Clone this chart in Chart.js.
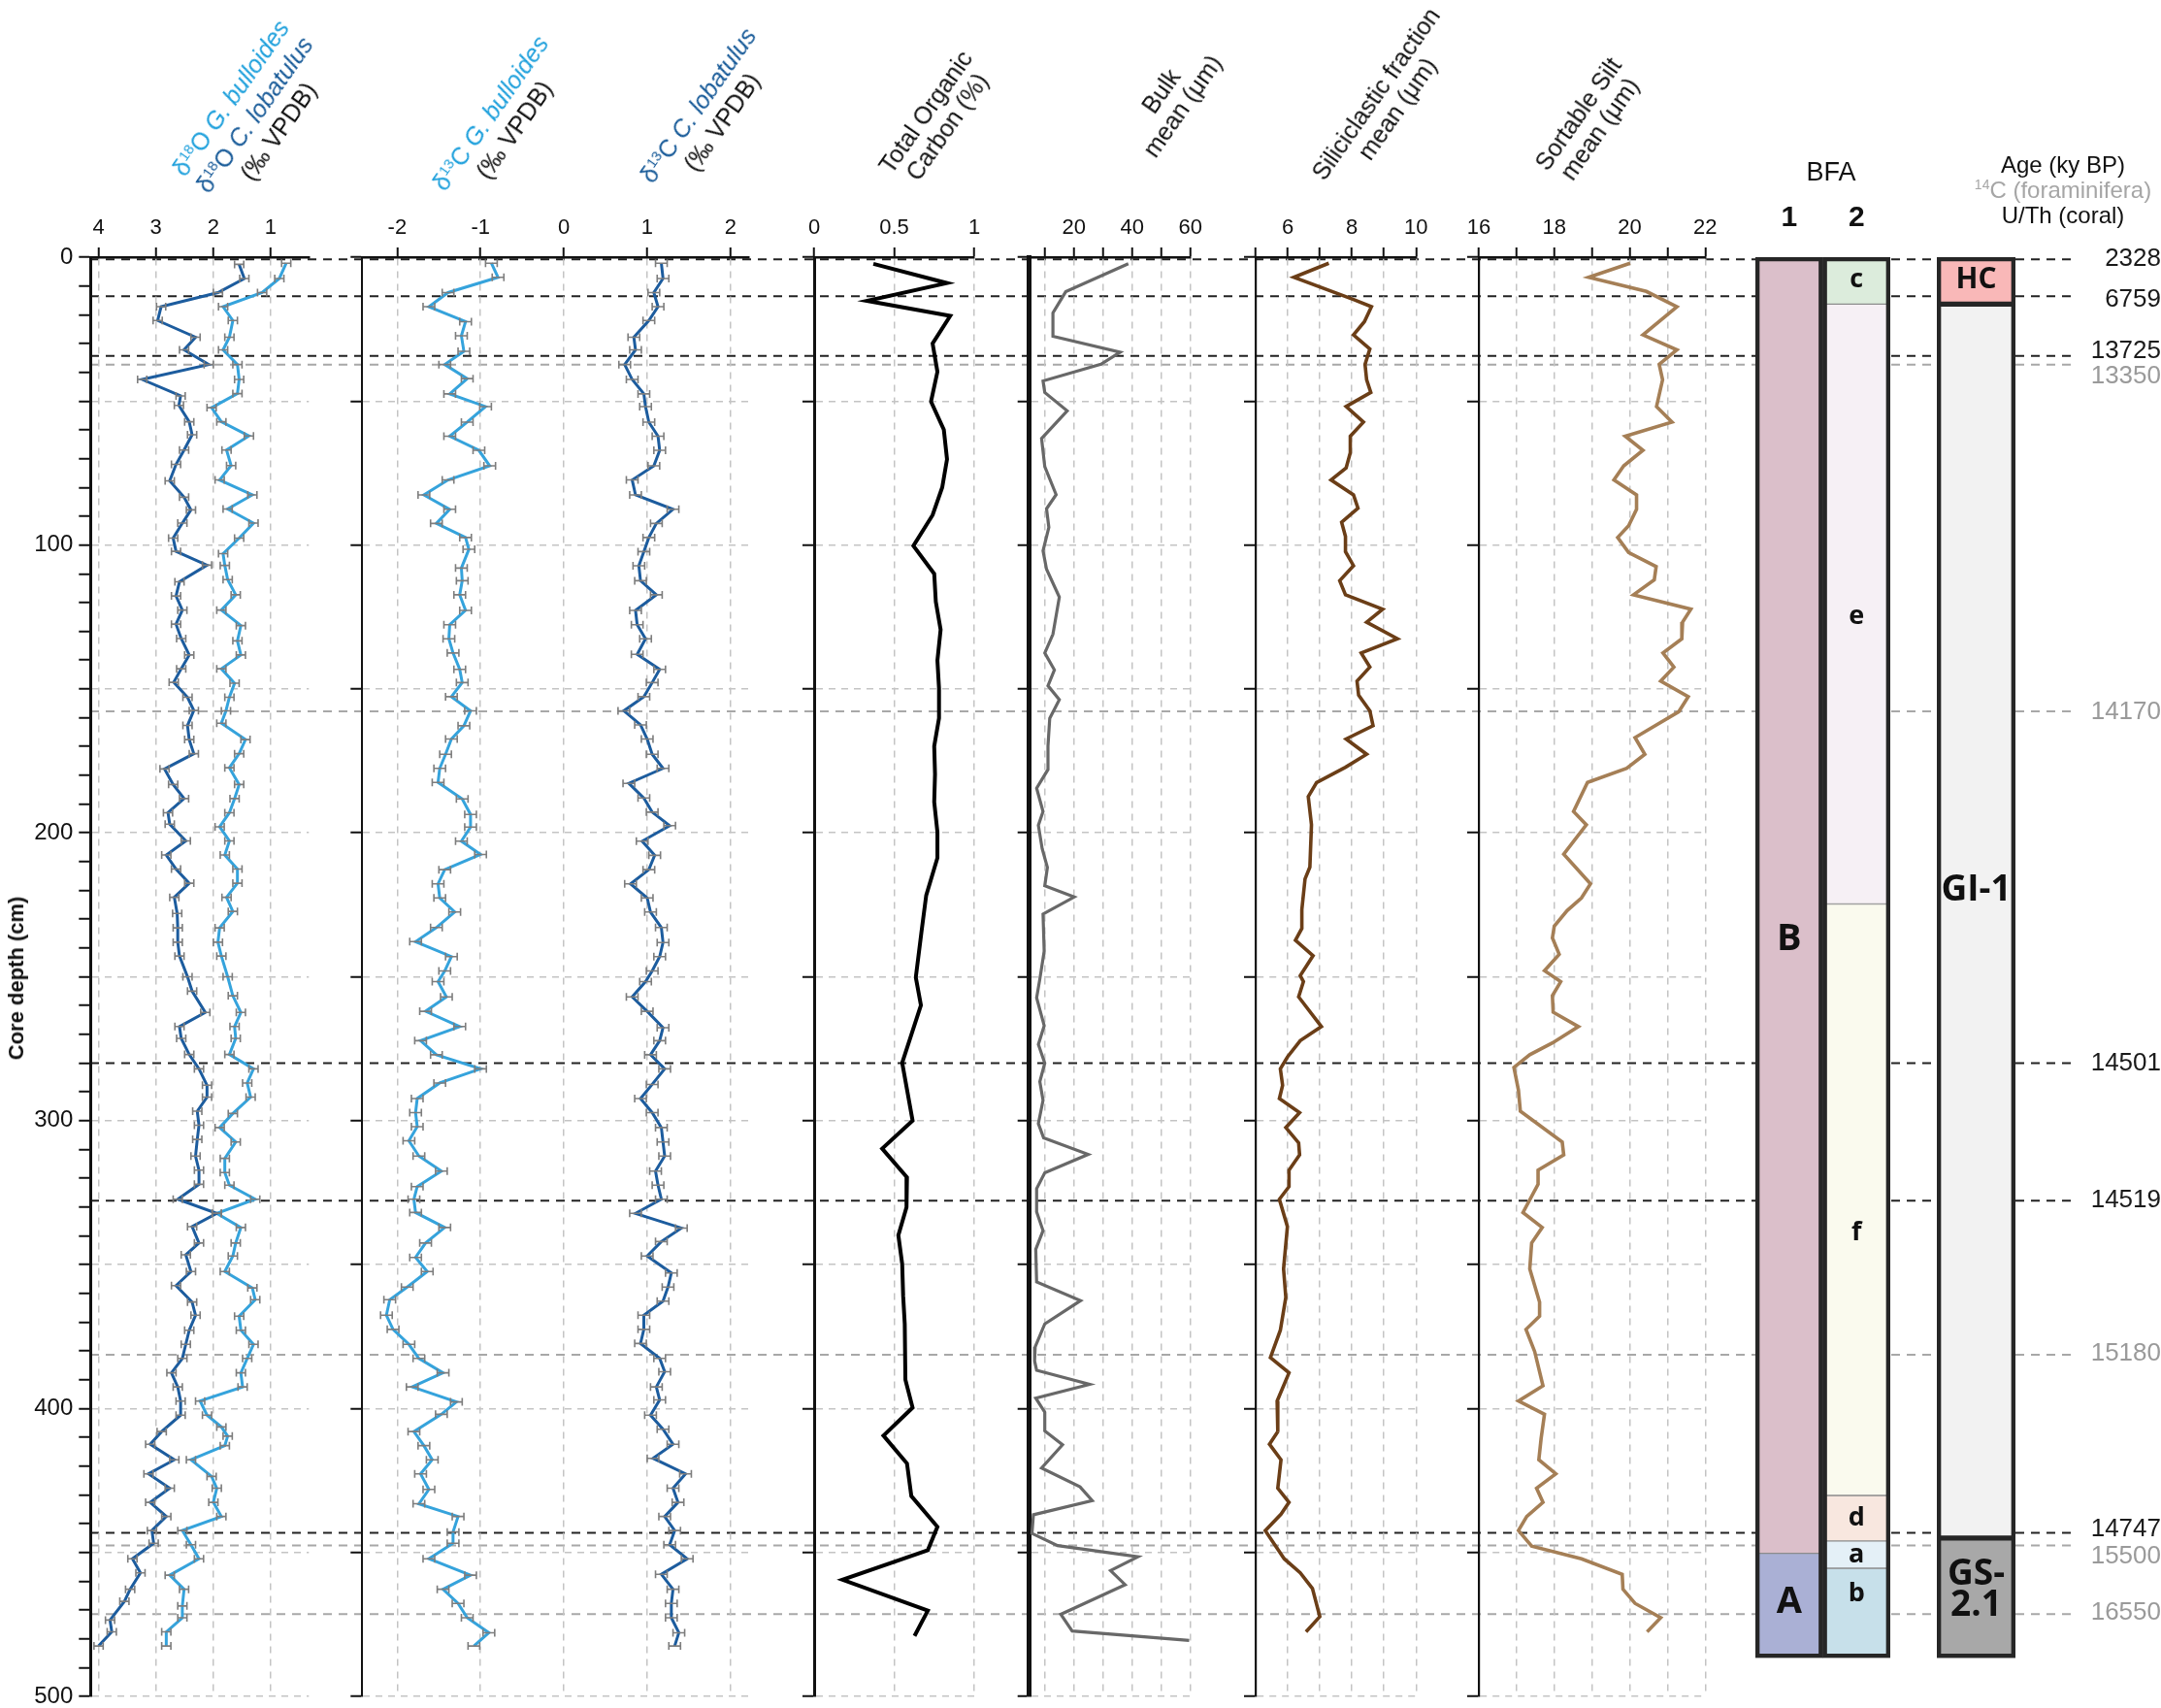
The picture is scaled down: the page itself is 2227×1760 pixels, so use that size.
<!DOCTYPE html>
<html>
<head>
<meta charset="utf-8">
<script src="https://cdn.jsdelivr.net/npm/chart.js@4.4.1/dist/chart.umd.min.js"></script>
<style>
html, body { margin: 0; padding: 0; background: #fff; }
#page { position: relative; width: 2227px; height: 1760px; overflow: hidden; font-family: 'Liberation Sans', Arial, sans-serif; color: #111; }
canvas.layer { position: absolute; top: 0; }
.ttl { position: absolute; white-space: nowrap; text-align: center; transform-origin: 0 0; transform: rotate(-55deg) translateY(-21px); font-size: 25px; line-height: 27px; z-index: 5; }
.sp { font-size: 0.6em; position: relative; top: -0.6em; }
.lbl { position: absolute; white-space: nowrap; z-index: 5; }
</style>
</head>
<body>
<div id="page"></div>
<script>
const FONT = "'Liberation Sans', Arial, sans-serif";
const H = 1790;          // canvas height (page clips at 1760)
const TOP = 265;         // pixel row of 0 cm
const BOTTOM_PAD = 42;   // puts 500 cm at row 1748

// depth axis
const DEPTH_LABELS = [0, 100, 200, 300, 400, 500];

// d18O C. lobatulus
const O18_LOB_DEPTH = [2.5,7.4,12.3,17.2,22,27.8,32.2,37.3,42.5,48.2,51.5,57.2,61.7,67,72,77.7,83.4,87.8,92.4,97.6,102.2,107,112.8,117.7,122.6,127.5,132.5,138.2,143,147.7,152.9,157.5,162.7,167.6,172.5,177.8,183.2,188.1,193,197,202.8,207.7,212.6,217.5,222.4,228,233,238,242.8,250,255,262.4,267.3,271.4,277,282,287.7,291.8,296.7,301.6,306.5,312.3,317.2,322.1,327.3,332.2,336.8,342.5,346.6,352.4,357.3,363,367.6,372.8,377.7,382.6,387.6,392.5,397.4,402.3,408,412.4,417.8,422.7,427.7,432.6,437.5,442.4,446.8,452.2,457.1,462.8,467,473.5,477.6,482.5];
const O18_LOB = [1.55,1.46,1.92,2.91,2.97,2.31,2.51,2.08,3.24,2.57,2.6,2.42,2.37,2.51,2.65,2.76,2.51,2.39,2.54,2.7,2.65,2.11,2.59,2.65,2.54,2.65,2.56,2.42,2.56,2.69,2.45,2.34,2.45,2.42,2.34,2.85,2.7,2.51,2.79,2.76,2.48,2.82,2.65,2.42,2.68,2.63,2.62,2.62,2.59,2.45,2.37,2.14,2.59,2.56,2.42,2.25,2.11,2.11,2.28,2.25,2.28,2.31,2.25,2.25,2.62,1.94,2.37,2.25,2.48,2.39,2.65,2.37,2.31,2.42,2.48,2.54,2.73,2.62,2.57,2.57,2.9,3.1,2.68,3.13,2.76,3.1,2.82,3.07,3.04,3.41,3.27,3.45,3.55,3.8,3.77,4.0];

// d18O G. bulloides
const O18_BUL_DEPTH = [2.1,7.4,12.3,17.2,22,27.8,32.2,37.3,42.5,47.4,52.3,57.2,62.1,67,72.4,77.4,82.6,87.5,92.4,97.6,103,107.1,112,117.3,122.6,128,133.3,138.2,143,148,152.9,157.6,161.9,167.6,172.5,177.4,183.2,188.1,193,197.9,202.8,207.7,212.6,217.5,222.4,227.3,233,238,242.8,250,256.6,262.4,267.3,271.4,277,282,286.9,291.8,297.5,302.4,307.4,313.1,318,322.4,327.3,332.2,337.1,342.5,347,352.4,358.1,362.2,367.9,372.8,377.7,382.6,387.6,392.5,397.4,402.3,406.4,409.6,412.9,417.8,423.6,427.7,432.6,437.5,442.4,447.3,452.2,457.9,462.8,468.6,472.7,477.6,482.5];
const O18_BUL = [0.73,0.85,1.15,1.83,1.66,1.72,1.83,1.58,1.55,1.58,2.03,1.86,1.38,1.77,1.69,1.89,1.32,1.75,1.30,1.55,1.83,1.80,1.75,1.61,1.86,1.52,1.58,1.52,1.86,1.63,1.72,1.78,1.86,1.44,1.55,1.72,1.55,1.63,1.72,1.89,1.72,1.80,1.58,1.58,1.77,1.66,1.89,1.92,1.86,1.75,1.66,1.52,1.63,1.61,1.72,1.30,1.41,1.35,1.66,1.89,1.61,1.80,1.80,1.72,1.27,1.94,1.52,1.61,1.66,1.80,1.32,1.27,1.55,1.52,1.30,1.41,1.52,1.49,2.23,2.11,1.86,1.75,1.80,2.39,2.03,1.94,2.0,1.86,2.54,2.39,2.25,2.76,2.51,2.54,2.54,2.82,2.82];

// d13C G. bulloides
const C13_BUL_DEPTH = [2.1,7,12.3,17.2,22.4,27.3,32.7,37.3,42.2,47.5,51.9,57.3,62.2,67.1,72.5,77.4,82.6,87.6,92.5,97.4,101.5,108,112.4,117.3,122.7,127.7,132.6,137.5,143.2,147.8,152.7,157.6,162.8,167.4,172.7,177.6,182.5,188.2,193.6,198,202.9,207.5,212.8,217.7,222.6,227.5,232.9,237.8,243,248,251.7,257,262,267.3,272.2,277.1,282,286.9,292.3,297.2,302.1,307,312.3,317.5,322.9,327.3,331.9,337.1,342.5,347.5,352.4,357.8,362.2,367.6,372.5,377.7,382.6,387.6,392.5,397.7,402,408,412.9,417.8,422.7,428.1,433.1,437.5,442.9,446.8,452.2,457.9,462.8,467.7,472.7,477.9,482.5];
const C13_BUL = [-0.87,-0.79,-1.39,-1.62,-1.18,-1.23,-1.20,-1.43,-1.16,-1.37,-0.94,-1.16,-1.37,-1.02,-0.89,-1.39,-1.68,-1.37,-1.53,-1.18,-1.14,-1.23,-1.22,-1.25,-1.18,-1.37,-1.38,-1.33,-1.25,-1.22,-1.35,-1.12,-1.20,-1.35,-1.42,-1.49,-1.51,-1.22,-1.12,-1.12,-1.23,-1.0,-1.43,-1.51,-1.49,-1.31,-1.53,-1.78,-1.35,-1.43,-1.51,-1.41,-1.66,-1.25,-1.72,-1.53,-1.0,-1.49,-1.76,-1.78,-1.76,-1.86,-1.74,-1.47,-1.76,-1.80,-1.78,-1.43,-1.66,-1.78,-1.64,-1.88,-2.09,-2.13,-2.05,-1.86,-1.74,-1.45,-1.82,-1.29,-1.47,-1.80,-1.68,-1.58,-1.72,-1.62,-1.74,-1.27,-1.33,-1.33,-1.62,-1.12,-1.45,-1.27,-1.16,-0.90,-1.08];

// d13C C. lobatulus
const C13_LOB_DEPTH = [2.1,7.4,12.3,17.2,22,27.8,32.2,37.3,42.5,47.5,51.9,57.3,62.2,67.1,72.5,77.4,82.6,87.6,92.5,97.4,102.3,107.2,112.4,117.3,122.7,127.7,132.6,138,143.2,147.8,152.7,157.6,162.5,167.4,172.7,177.6,182.8,187.9,192.8,197.5,202.9,207.8,212.8,217.7,222.6,227.5,232.9,238.1,243,248,251.7,257,262,267.7,272.2,277.1,282,287.4,292.3,297.2,302.4,307.4,312.3,317.5,322.4,327.3,332.2,337.3,342,347,352.9,357.8,362.7,367.6,372.5,377.4,382.6,387.2,392.5,397,402.3,407.2,412.4,417.3,422.7,427.7,432.6,437.5,442.4,447.3,452.2,457.6,462.8,467.7,472.7,477.9,482.5];
const C13_LOB = [1.17,1.19,1.08,1.13,1.02,0.84,0.86,0.73,0.82,0.96,0.98,1.02,1.13,1.15,1.08,0.82,0.86,1.31,1.11,1.02,0.96,0.90,0.92,1.11,0.86,0.88,0.98,0.88,1.15,1.06,0.96,0.72,0.92,1.0,1.06,1.19,0.78,0.96,1.06,1.27,0.94,1.09,1.02,0.80,1.0,1.04,1.17,1.19,1.15,1.06,0.98,0.82,1.0,1.19,1.15,1.04,1.21,1.06,0.92,1.06,1.17,1.19,1.21,1.10,1.13,1.17,0.86,1.41,1.17,1.0,1.29,1.25,1.19,0.96,0.96,0.92,1.15,1.21,1.11,1.15,1.04,1.19,1.31,1.07,1.46,1.31,1.37,1.21,1.33,1.27,1.48,1.17,1.31,1.29,1.29,1.38,1.33];

// total organic carbon (%)
const TOC_DEPTH = [2.3,9,15.2,20.4,30,39.8,50.2,59.9,70.2,80,89.6,100.3,110,119.7,129.4,140.1,149.8,160.2,169.9,179.6,189.3,199.7,208.7,221.7,234.6,250.2,259.9,279.9,300,309.7,319.7,330.1,339.8,349.8,360.8,370.6,390,399.7,409.4,419.1,430.4,441.1,449.2,459.5,470.2,479];
const TOC = [0.37,0.83,0.33,0.85,0.74,0.77,0.73,0.81,0.83,0.80,0.74,0.62,0.75,0.76,0.79,0.77,0.78,0.78,0.75,0.755,0.75,0.77,0.77,0.70,0.67,0.635,0.667,0.55,0.615,0.425,0.58,0.577,0.526,0.55,0.556,0.566,0.57,0.615,0.433,0.58,0.607,0.77,0.71,0.177,0.71,0.627];

// bulk mean (um)
const BULK_DEPTH = [2.3,12,19.4,27.5,33,37.2,43,47,53.4,63,72.8,82.5,87.4,93.9,102,108.4,118.1,131,137.5,143.4,148.9,153.7,160.2,169.9,178,184.5,192.6,197.4,205.5,212,218.4,222.3,228.2,241.1,250.8,257.3,267,273.5,280,286.4,292.9,301,306,311.7,318.1,323.6,331.7,338.2,344.7,356,362.5,370.6,378.6,383.5,386.7,391.6,396.4,401.3,407.8,412.6,420.7,427.2,432,436.9,443.4,447.6,451.5,456.3,461.2,471.5,477.3,480.6];
const BULK = [38.7,17.2,12.8,12.8,35.9,29.3,9.4,10,17.7,8.9,10,13.9,10.6,11.4,9.4,10.6,15,12.8,10,13.3,11.1,15,11.7,11.1,11.1,7.2,9.4,7.8,9.1,10.9,10,20.1,9.4,9.8,8.3,7.2,9.8,7.8,10,8.3,9.4,7.8,9.6,24.9,10,7.2,7.2,9.4,6.9,7.2,22.3,10,6.7,6.5,7.2,25.4,6.9,10,10,16.1,8.9,22.1,26.3,6.1,5.6,14.4,42,32.6,37.6,15.5,19.4,59.6];

// siliciclastic fraction mean (um)
const SILIC_DEPTH = [2.1,7,14.7,17.2,22.4,27,31.9,37.2,42.6,47,51.9,57.3,62.2,67.9,73.2,77.4,82.6,87.2,92.1,97,102.3,107.2,112.4,117.3,122.3,126.8,132.6,137.5,142.4,147.3,152.2,157.6,162.8,167.4,172.7,177.2,182.5,187.4,197.2,211.9,216,226.7,233.2,237.3,242.7,249.6,251.7,257,267.3,272.2,277.9,282,287.7,292.3,297.2,302.4,307.7,311.9,317.2,322.9,327.3,336.8,351.5,361.4,372.8,382.3,387.6,397.4,408,412.4,417.8,427.7,432.6,436.7,442.4,452.2,457.1,462.5,472.3,477.6];
const SILIC = [7.28,6.19,8.05,8.61,8.39,8.05,8.56,8.41,8.46,8.59,7.82,8.36,7.95,7.95,7.82,7.35,8.05,8.19,7.68,7.80,7.80,8.05,7.62,7.80,8.96,8.46,9.42,8.29,8.56,8.16,8.21,8.56,8.66,7.82,8.46,7.80,6.90,6.64,6.74,6.69,6.54,6.44,6.44,6.24,6.79,6.39,6.49,6.34,7.05,6.39,5.99,5.77,5.84,5.74,6.37,5.94,6.34,6.37,6.04,6.04,5.74,5.99,5.87,5.94,5.77,5.46,6.04,5.67,5.69,5.43,5.79,5.69,6.04,5.79,5.30,5.89,6.39,6.77,7.0,6.57];

// sortable silt mean (um)
const SILT_DEPTH = [2.1,7,11.9,17.2,27,32.2,37.2,42.6,51.9,57.3,62.2,67.1,72.5,77.4,82.6,87.6,93.3,97.4,102.6,107.5,112.1,117.3,122.3,126.8,132.6,137.5,142.4,147.3,152.7,157.9,166.9,172.7,177.6,182.5,192.6,197.2,207.4,217.7,222.6,227,232.4,236.5,242.2,247.9,251.7,256.6,262.3,267.3,273,277.1,281.5,289.4,296.7,307.4,311.9,317.2,322.1,331.9,337.1,342.5,351.5,363,367.9,372.5,380.2,392.1,397.4,402,410.5,417.8,422.7,427.7,432.6,437.5,442.4,447.8,452.2,457.6,462.8,467.7,472.7,477.6];
const SILT = [20.01,18.91,20.44,21.25,20.35,21.25,20.78,20.87,20.71,21.12,19.88,20.35,19.84,19.58,20.18,20.18,19.97,19.68,19.97,20.70,20.65,20.10,21.62,21.40,21.38,20.88,21.17,20.82,21.55,21.30,20.14,20.40,19.92,18.88,18.51,18.85,18.25,18.96,18.72,18.34,18.0,17.95,18.13,17.74,18.17,17.95,17.97,18.64,17.95,17.35,16.93,17.05,17.10,18.21,18.25,17.57,17.57,17.17,17.68,17.40,17.35,17.61,17.61,17.25,17.48,17.70,17.05,17.74,17.65,17.59,18.04,17.53,17.70,17.27,17.05,17.40,18.72,19.80,19.82,20.14,20.82,20.46];

// tick values and labels of the value axes
const O18_TICKS = [4, 3, 2, 1];
const O18_TICK_LABELS = ['4', '3', '2', '1'];
const C13_TICKS = [-2, -1, 0, 1, 2];
const C13_TICK_LABELS = ['-2', '-1', '0', '1', '2'];
const TOC_TICKS = [0, 0.5, 1];
const TOC_TICK_LABELS = ['0', '0.5', '1'];
const BULK_TICKS = [10, 20, 30, 40, 50, 60];
const BULK_TICK_LABELS = ['', '20', '', '40', '', '60'];
const SILIC_TICKS = [5, 6, 7, 8, 9, 10];
const SILIC_TICK_LABELS = ['', '6', '', '8', '', '10'];
const SILT_TICKS = [16, 17, 18, 19, 20, 21, 22];
const SILT_TICK_LABELS = ['16', '', '18', '', '20', '', '22'];

// dated levels
const REF_DEPTH = [0.8, 13.6, 34.3, 37.3, 157.8, 280, 327.8, 381.3, 443.2, 447.6, 471.4];
const REF_KIND = ['U/Th', 'U/Th', 'U/Th', '14C', '14C', 'U/Th', 'U/Th', '14C', 'U/Th', '14C', '14C'];
const REF_LABEL_DEPTH = [0.5, 14.8, 32.5, 41.5, 158, 280, 327.6, 381, 441.8, 451.5, 471];
const REF_LABELS = ['2328', '6759', '13725', '13350', '14170', '14501', '14519', '15180', '14747', '15500', '16550'];

// benthic foraminiferal assemblages
const CORE_BASE = 486.6;
const BFA_COLUMNS = ['1', '2'];
const BFA_ZONE = ['B', 'A', 'c', 'e', 'f', 'd', 'a', 'b'];
const BFA_ZONE_COLUMN = ['1', '1', '2', '2', '2', '2', '2', '2'];
const BFA_ZONE_TOP = [0, 450.3, 0, 16.3, 224.7, 430.2, 446, 455.5];
const BFA_ZONE_BASE = [450.3, 486.6, 16.3, 224.7, 430.2, 446, 455.5, 486.6];
const BFA_NAME_DEPTH = [237, 467.5, 8, 125, 339, 438, 451, 464.5];
const AGE_ZONE = ['HC', 'GI-1', 'GS-\n2.1'];
const AGE_ZONE_TOP = [0, 16.3, 445];
const AGE_ZONE_BASE = [16.3, 445, 486.6];
const AGE_NAME_DEPTH = [8, 220, 463];

const BFA_COLORS = ['#dbbfca', '#aab0d5', '#dcecdc', '#f6f0f5', '#fafaee', '#f8e7df', '#e4f0f7', '#c7e0ea'];
const AGE_COLORS = ['#f9b8b8', '#f2f2f2', '#a8a8a8'];
const KIND_COLOR = { 'U/Th': '#1a1a1a', '14C': '#9a9a9a' };
const BUL_COLOR = '#35a3dc';
const LOB_COLOR = '#1c5c9e';

const page = document.getElementById('page');

function addCanvas(left, width, z) {
  const c = document.createElement('canvas');
  c.className = 'layer';
  c.width = width; c.height = H;
  c.style.left = left + 'px';
  c.style.width = width + 'px';
  c.style.height = H + 'px';
  c.style.zIndex = z;
  page.appendChild(c);
  return c;
}

function series(depths, values, color, width, err) {
  return {
    data: depths.map((d, i) => ({ x: values[i], y: d })),
    borderColor: color, borderWidth: width, pointRadius: 0, tension: 0, fill: false, err: err
  };
}

// horizontal analytical error bars
const errorBars = {
  id: 'errorBars',
  afterDatasetsDraw(chart) {
    const { ctx, scales: { x, y } } = chart;
    chart.data.datasets.forEach(ds => {
      if (!ds.err) return;
      ctx.save();
      ctx.strokeStyle = '#7d7d7d';
      ctx.lineWidth = 1.6;
      ds.data.forEach(p => {
        const x0 = x.getPixelForValue(p.x - ds.err);
        const x1 = x.getPixelForValue(p.x + ds.err);
        const yy = y.getPixelForValue(p.y);
        ctx.beginPath();
        ctx.moveTo(x0, yy); ctx.lineTo(x1, yy);
        ctx.moveTo(x0, yy - 4); ctx.lineTo(x0, yy + 4);
        ctx.moveTo(x1, yy - 4); ctx.lineTo(x1, yy + 4);
        ctx.stroke();
      });
      ctx.restore();
    });
  }
};

// zone names written inside each bar, at their own depth
const zoneTags = {
  id: 'zoneTags',
  afterDatasetsDraw(chart) {
    const ctx = chart.ctx;
    const y = chart.scales.y;
    chart.data.datasets.forEach((ds, i) => {
      if (!ds.tag) return;
      chart.getDatasetMeta(i).data.forEach((el, j) => {
        if (!ds.data[j]) return;
        const lines = ds.tag.split('\n');
        const mid = y.getPixelForValue(ds.tagDepth);
        ctx.save();
        ctx.font = 'bold ' + ds.tagSize + "px 'Open Sans', " + FONT;
        ctx.fillStyle = '#111';
        ctx.textAlign = 'center';
        ctx.textBaseline = 'middle';
        lines.forEach((t, k) => ctx.fillText(t, el.x, mid + (k - (lines.length - 1) / 2) * ds.tagSize * 0.88));
        ctx.restore();
      });
    });
  }
};

const GRID_GREY = '#c4c4c4';

function makePanel(p) {
  const left = Math.floor(p.left - p.room);
  const width = Math.ceil(p.right + 24 - left);
  const canvas = addCanvas(left, width, 2);
  const yTicks = [];
  for (let d = 0; d <= 500; d += p.yStep) yTicks.push(d);
  return new Chart(canvas, {
    type: 'line',
    data: { datasets: p.datasets },
    options: {
      responsive: false, animation: false, events: [], devicePixelRatio: 1,
      layout: { padding: { left: p.left - left - p.yWidth, right: left + width - p.right, top: 0, bottom: BOTTOM_PAD } },
      plugins: { legend: { display: false }, tooltip: { enabled: false } },
      scales: {
        x: {
          type: 'linear', position: 'top', min: p.min, max: p.max, reverse: !!p.reverse,
          afterFit: s => { s.height = TOP; },
          afterBuildTicks: s => { s.ticks = p.ticks.map(v => ({ value: v })); },
          ticks: { autoSkip: false, maxRotation: 0, padding: 7, color: '#111', font: { size: 22, family: FONT },
                   callback: (v, i) => p.tickLabels[i] },
          grid: { color: c => (c.tick && c.tick.value !== p.edge) ? GRID_GREY : 'rgba(0,0,0,0)',
                  lineWidth: 1.5, tickColor: '#111', tickLength: 10, tickWidth: 2 },
          border: { color: '#111', width: 2.5, dash: [7, 6] }
        },
        y: {
          type: 'linear', position: 'left', min: 0, max: 500, reverse: true,
          afterFit: s => { s.width = p.yWidth; },
          afterBuildTicks: s => { s.ticks = yTicks.map(v => ({ value: v })); },
          ticks: { display: !!p.yLabels, autoSkip: false, padding: 6, color: '#111', font: { size: 24, family: FONT },
                   callback: v => DEPTH_LABELS.includes(v) ? String(v) : '' },
          grid: { color: c => (c.tick && c.tick.value % 50 === 0 && c.tick.value > 0) ? GRID_GREY : 'rgba(0,0,0,0)',
                  lineWidth: 1.5, tickColor: '#111', tickLength: 12, tickWidth: 2 },
          border: { color: '#111', width: p.axisWidth, dash: [7, 6] }
        }
      }
    },
    plugins: [errorBars]
  });
}

// dashed reference levels with their ages
(function () {
  const canvas = addCanvas(0, 2227, 1);
  new Chart(canvas, {
    type: 'line',
    data: {
      datasets: REF_DEPTH.map((d, i) => ({
        data: [{ x: 0, y: d }, { x: 1, y: d }],
        borderColor: REF_KIND[i] === 'U/Th' ? '#222' : '#a8a8a8',
        borderWidth: 2, borderDash: [9, 7], pointRadius: 0
      }))
    },
    options: {
      responsive: false, animation: false, events: [], devicePixelRatio: 1,
      layout: { padding: { left: 93, right: 0, top: TOP, bottom: BOTTOM_PAD } },
      plugins: { legend: { display: false }, tooltip: { enabled: false } },
      scales: {
        x: { type: 'linear', display: false, min: 0, max: 1 },
        y: {
          type: 'linear', position: 'right', min: 0, max: 500, reverse: true,
          afterFit: s => { s.width = 87; },
          afterBuildTicks: s => { s.ticks = REF_LABEL_DEPTH.map(v => ({ value: v })); },
          ticks: { autoSkip: false, crossAlign: 'far', padding: 6, font: { size: 26, family: FONT },
                   color: c => KIND_COLOR[REF_KIND[c.index]], callback: (v, i) => REF_LABELS[i] },
          grid: { display: false, drawTicks: false },
          border: { display: false }
        }
      }
    }
  });
})();

makePanel({
  left: 93.3, right: 318.3, room: 93.3, yWidth: 93.3, yStep: 10, yLabels: true, axisWidth: 3,
  min: 0.335, max: 4.14, reverse: true, ticks: O18_TICKS, tickLabels: O18_TICK_LABELS, edge: null,
  datasets: [
    series(O18_LOB_DEPTH, O18_LOB, LOB_COLOR, 3, 0.08),
    series(O18_BUL_DEPTH, O18_BUL, BUL_COLOR, 3, 0.08)
  ]
});
makePanel({
  left: 373.3, right: 771.7, room: 60, yWidth: 14, yStep: 50, axisWidth: 2,
  min: -2.42, max: 2.22, ticks: C13_TICKS, tickLabels: C13_TICK_LABELS, edge: null,
  datasets: [
    series(C13_BUL_DEPTH, C13_BUL, BUL_COLOR, 3, 0.07),
    series(C13_LOB_DEPTH, C13_LOB, LOB_COLOR, 3, 0.07)
  ]
});
makePanel({
  left: 839, right: 1004, room: 60, yWidth: 14, yStep: 50, axisWidth: 3,
  min: 0, max: 1, ticks: TOC_TICKS, tickLabels: TOC_TICK_LABELS, edge: 0,
  datasets: [series(TOC_DEPTH, TOC, '#000', 4)]
});
makePanel({
  left: 1060.7, right: 1226.7, room: 60, yWidth: 14, yStep: 50, axisWidth: 5,
  min: 4.67, max: 60, ticks: BULK_TICKS, tickLabels: BULK_TICK_LABELS, edge: null,
  datasets: [series(BULK_DEPTH, BULK, '#686868', 3.2)]
});
makePanel({
  left: 1294, right: 1459.3, room: 60, yWidth: 14, yStep: 50, axisWidth: 2.2,
  min: 5, max: 10, ticks: SILIC_TICKS, tickLabels: SILIC_TICK_LABELS, edge: 5,
  datasets: [series(SILIC_DEPTH, SILIC, '#6b3e17', 3.6)]
});
makePanel({
  left: 1524, right: 1757.3, room: 60, yWidth: 14, yStep: 50, axisWidth: 2.2,
  min: 16, max: 22, ticks: SILT_TICKS, tickLabels: SILT_TICK_LABELS, edge: 16,
  datasets: [series(SILT_DEPTH, SILT, '#a57f56', 3.6)]
});

function zoneBars(names, columns, cats, tops, bases, nameDepths, colors, size, edge, edgeWidth) {
  const sets = names.map((n, i) => ({
    type: 'bar',
    data: cats.map(c => c === columns[i] ? [tops[i], bases[i]] : null),
    backgroundColor: colors[i], borderColor: edge, borderWidth: edgeWidth, borderSkipped: false,
    barPercentage: 1, categoryPercentage: 1, grouped: false,
    tag: n, tagSize: size(n), tagDepth: nameDepths[i]
  }));
  sets.push({
    type: 'bar', order: -1,
    data: cats.map(() => [0, CORE_BASE]),
    backgroundColor: 'rgba(0,0,0,0)', borderColor: '#262626', borderWidth: 4, borderSkipped: false,
    barPercentage: 1, categoryPercentage: 1, grouped: false
  });
  return sets;
}

// BFA columns 1 and 2
(function () {
  const left = 1800, width = 170;
  const canvas = addCanvas(left, width, 3);
  new Chart(canvas, {
    type: 'bar',
    data: {
      labels: BFA_COLUMNS,
      datasets: zoneBars(BFA_ZONE, BFA_ZONE_COLUMN, BFA_COLUMNS, BFA_ZONE_TOP, BFA_ZONE_BASE, BFA_NAME_DEPTH, BFA_COLORS,
                         n => (n === 'A' || n === 'B') ? 38 : 27, '#8c8c8c', 1)
    },
    options: {
      responsive: false, animation: false, events: [], devicePixelRatio: 1,
      layout: { padding: { left: 1809 - left, right: left + width - 1948, top: 0, bottom: BOTTOM_PAD } },
      plugins: { legend: { display: false }, tooltip: { enabled: false } },
      scales: {
        x: {
          type: 'category', position: 'top', offset: true,
          afterFit: s => { s.height = TOP; },
          ticks: { padding: 22, color: '#111', font: { size: 30, weight: 'bold', family: FONT } },
          grid: { display: false, drawTicks: false }, border: { display: false }
        },
        y: { type: 'linear', display: false, min: 0, max: 500, reverse: true }
      }
    },
    plugins: [zoneTags]
  });
})();

// climate events column
(function () {
  const left = 1988, width = 110;
  const canvas = addCanvas(left, width, 3);
  new Chart(canvas, {
    type: 'bar',
    data: {
      labels: ['Age'],
      datasets: zoneBars(AGE_ZONE, ['Age', 'Age', 'Age'], ['Age'], AGE_ZONE_TOP, AGE_ZONE_BASE, AGE_NAME_DEPTH, AGE_COLORS,
                         n => n === 'HC' ? 30 : 37, '#262626', 3)
    },
    options: {
      responsive: false, animation: false, events: [], devicePixelRatio: 1,
      layout: { padding: { left: 1996 - left, right: left + width - 2077, top: TOP, bottom: BOTTOM_PAD } },
      plugins: { legend: { display: false }, tooltip: { enabled: false } },
      scales: {
        x: { type: 'category', display: false, offset: true },
        y: { type: 'linear', display: false, min: 0, max: 500, reverse: true }
      }
    },
    plugins: [zoneTags]
  });
})();

// rotated column titles
function addTitle(x, y, lines) {
  const d = document.createElement('div');
  d.className = 'ttl';
  d.style.left = x + 'px';
  d.style.top = y + 'px';
  d.innerHTML = lines.map(l => '<div style="color:' + (l[1] || '#111') + '">' + l[0] + '</div>').join('');
  page.appendChild(d);
}
const CYAN = '#1ea0dc', NAVY = '#175a98';
addTitle(190, 183, [['δ<span class="sp">18</span>O <i>G. bulloides</i>', CYAN],
                    ['δ<span class="sp">18</span>O <i>C. lobatulus</i>', NAVY],
                    ['(‰ VPDB)']]);
addTitle(458, 198, [['δ<span class="sp">13</span>C <i>G. bulloides</i>', CYAN], ['(‰ VPDB)']]);
addTitle(672, 190, [['δ<span class="sp">13</span>C <i>C. lobatulus</i>', NAVY], ['(‰ VPDB)']]);
addTitle(918, 180, [['Total Organic'], ['Carbon (%)']]);
addTitle(1168, 148, [['Bulk'], ['mean (μm)']]);
addTitle(1364, 187, [['Siliciclastic fraction'], ['mean (μm)']]);
addTitle(1594, 177, [['Sortable Silt'], ['mean (μm)']]);

function addLabel(html, x, y, style) {
  const d = document.createElement('div');
  d.className = 'lbl';
  d.innerHTML = html;
  d.style.left = x + 'px';
  d.style.top = y + 'px';
  d.style.cssText += style;
  page.appendChild(d);
}
addLabel('Core depth (cm)', 17, 1008, 'transform:translate(-50%,-50%) rotate(-90deg);font-weight:bold;font-size:22px;');
addLabel('BFA', 1887, 177, 'transform:translate(-50%,-50%);font-size:27px;');
addLabel('Age (ky BP)', 2126, 170, 'transform:translate(-50%,-50%);font-size:24px;');
addLabel('<span style="font-size:14px;position:relative;top:-9px">14</span>C (foraminifera)', 2126, 196, 'transform:translate(-50%,-50%);font-size:24px;color:#a6a6a6;');
addLabel('U/Th (coral)', 2126, 222, 'transform:translate(-50%,-50%);font-size:24px;');
</script>
</body>
</html>
